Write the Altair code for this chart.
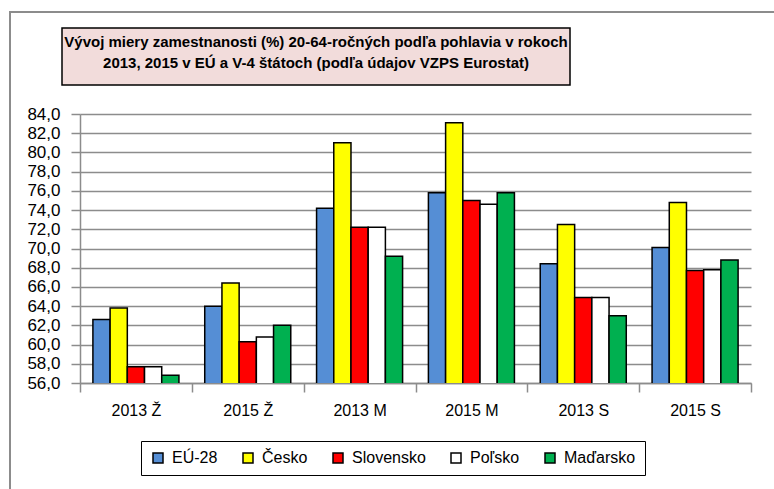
import altair as alt
import pandas as pd

categories = ["2013 Ž", "2015 Ž", "2013 M", "2015 M", "2013 S", "2015 S"]
series = ["EÚ-28", "Česko", "Slovensko", "Poľsko", "Maďarsko"]
colors = ["#558ED5", "#FFFF00", "#FF0000", "#FFFFFF", "#00B050"]
values = {
    "EÚ-28":     [62.6, 64.0, 74.2, 75.8, 68.4, 70.1],
    "Česko":     [63.8, 66.4, 81.0, 83.1, 72.5, 74.8],
    "Slovensko": [57.7, 60.3, 72.2, 75.0, 64.9, 67.7],
    "Poľsko":    [57.7, 60.8, 72.2, 74.6, 64.9, 67.8],
    "Maďarsko":  [56.8, 62.0, 69.2, 75.8, 63.0, 68.8],
}
title_line1 = "Vývoj miery zamestnanosti (%) 20-64-ročných podľa pohlavia v rokoch"
title_line2 = "2013, 2015 v EÚ a V-4 štátoch (podľa údajov VZPS Eurostat)"

rows = []
for s in series:
    for c, v in zip(categories, values[s]):
        rows.append({"cat": c, "series": s, "value": v})
df = pd.DataFrame(rows)

FONT = "Liberation Sans Narrow, Arial Narrow, Liberation Sans, Arial"

bars = alt.Chart(df).mark_bar(stroke="black", strokeWidth=1.5, clip=True).encode(
    x=alt.X("cat:N", sort=categories, title=None,
            scale=alt.Scale(paddingInner=0, paddingOuter=0),
            axis=alt.Axis(labelAngle=0, tickBand="extent", tickSize=9, tickColor="#8c8c8c",
                          tickWidth=1.5, domainColor="#8c8c8c", domainWidth=1.5,
                          labelFontSize=16, labelFont=FONT, labelColor="black",
                          labelPadding=10, grid=False)),
    xOffset=alt.XOffset("series:N", sort=series, scale=alt.Scale(paddingInner=0, paddingOuter=0.75)),
    y=alt.Y("value:Q", title=None,
            scale=alt.Scale(domain=[56, 84], nice=False, zero=False),
            axis=alt.Axis(values=list(range(56, 85, 2)),
                          labelExpr="replace(format(datum.value, '.1f'), '.', ',')",
                          tickSize=9, tickColor="#8c8c8c", tickWidth=1.5,
                          domainColor="#8c8c8c", domainWidth=1.5,
                          gridColor="#8c8c8c", gridWidth=1.5,
                          labelFontSize=17, labelFont=FONT, labelColor="black",
                          labelPadding=11)),
    color=alt.Color("series:N", sort=series,
                    scale=alt.Scale(domain=series, range=colors),
                    legend=alt.Legend(title=None, orient="none", legendX=61, legendY=327,
                                      direction="horizontal", symbolType="square",
                                      symbolSize=100, symbolStrokeColor="black",
                                      symbolStrokeWidth=1.5, labelFontSize=16,
                                      labelFont=FONT, labelColor="black",
                                      columnPadding=22, labelOffset=6,
                                      strokeColor="black", padding=9,
                                      fillColor="white")),
)

one = pd.DataFrame({"k": [0]})

frame = alt.Chart(one).mark_rect(
    fill=None, stroke="#8c8c8c", strokeWidth=2
).encode(x=alt.value(-70), x2=alt.value(700), y=alt.value(-102), y2=alt.value(390))

title_box = alt.Chart(one).mark_rect(
    fill="#F2DCDB", stroke="black", strokeWidth=1.5
).encode(x=alt.value(-18), x2=alt.value(490), y=alt.value(-86), y2=alt.value(-29))

t1 = alt.Chart(one).mark_text(
    font=FONT, fontSize=15, fontWeight="bold", color="black", align="center",
    baseline="middle", text=title_line1
).encode(x=alt.value(236), y=alt.value(-72))

t2 = alt.Chart(one).mark_text(
    font=FONT, fontSize=15, fontWeight="bold", color="black", align="center",
    baseline="middle", text=title_line2
).encode(x=alt.value(236), y=alt.value(-51))

chart = alt.layer(frame, bars, title_box, t1, t2).properties(
    width=671, height=269,
    autosize=alt.AutoSizeParams(type="none"),
    padding={"left": 80, "top": 114, "right": 23, "bottom": 106},
).configure_view(stroke=None)

chart.save("out.html", embed_options={"renderer": "svg", "actions": False})
